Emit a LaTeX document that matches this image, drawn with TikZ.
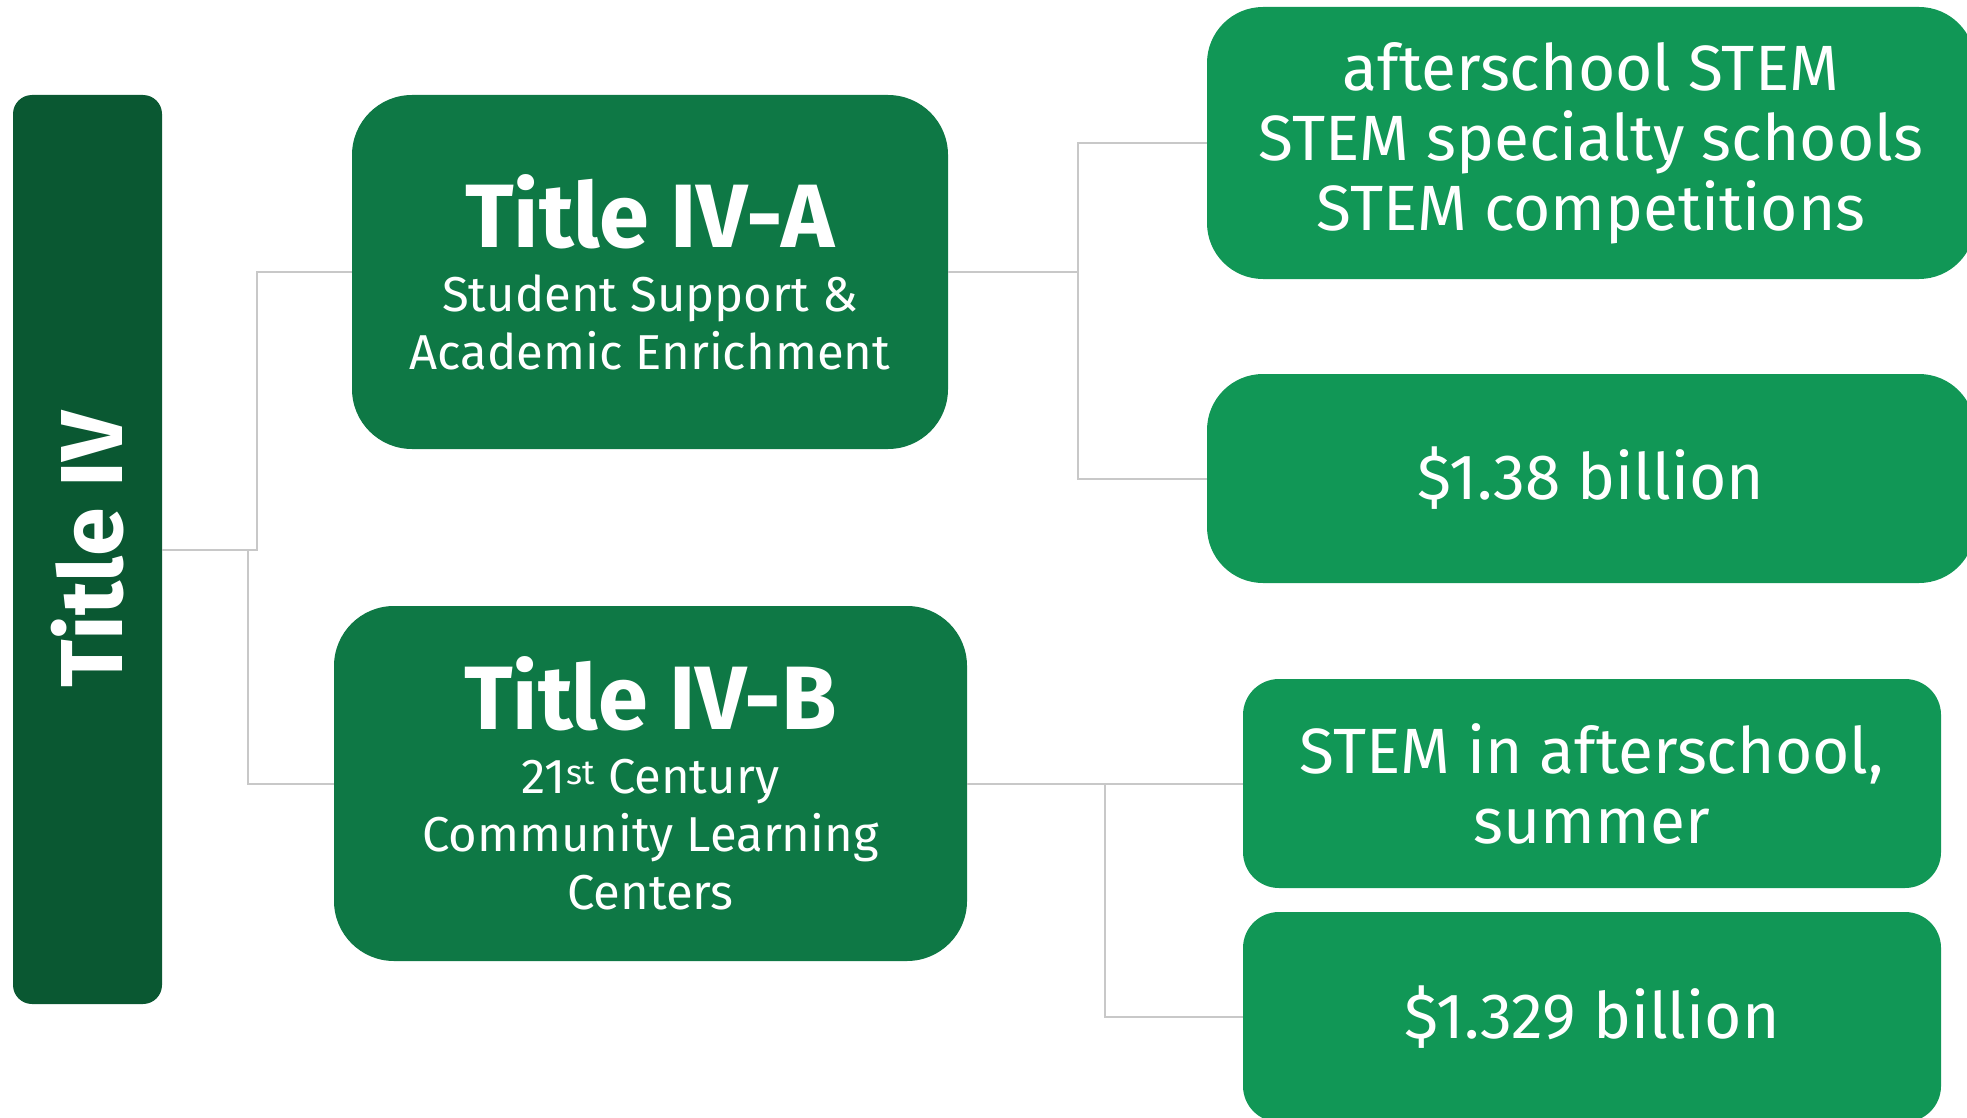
\documentclass[tikz,border=0pt]{standalone}
\usepackage{fontspec}
\setmainfont{Fira Sans}

\definecolor{darkgreen}{HTML}{0A5832}
\definecolor{midgreen}{HTML}{0E7845}
\definecolor{lightgreen}{HTML}{119756}
\definecolor{linegray}{HTML}{C8C8C8}

\newcommand{\headfont}{\fontsize{90}{94}\selectfont\bfseries}
\newcommand{\subfont}{\fontsize{49}{58}\selectfont}
\newcommand{\infofont}{\fontsize{64}{70}\selectfont}

\tikzset{
  conn/.style={draw=linegray, line width=2pt},
  titlebox/.style={fill=midgreen, text=white, inner sep=0pt, align=center, rounded corners=60pt, font=\subfont},
  infobox/.style={fill=lightgreen, text=white, inner sep=0pt, align=center, font=\infofont},
}

\begin{document}
\begin{tikzpicture}[x=1pt,y=-1pt]
  \useasboundingbox (0,0) rectangle (1967,1118);
  \clip (0,0) rectangle (1967,1118);

  % main bar
  \node[fill=darkgreen, text=white, rounded corners=19pt, inner sep=0pt, rotate=90,
        minimum width=909pt, minimum height=149pt, font=\fontsize{88}{92}\selectfont\bfseries]
        (t4) at (87.5,549.5) {Title IV};

  % title boxes
  \node[titlebox, minimum width=596pt, minimum height=354pt] (t4a) at (650,272)
        {{\headfont Title IV-A}\\[6pt] Student Support \&\\ Academic Enrichment};
  \node[titlebox, minimum width=633pt, minimum height=355pt] (t4b) at (650.5,783.5)
        {{\headfont Title IV-B}\\[6pt] 21\textsuperscript{st} Century\\ Community Learning\\ Centers};

  % info boxes
  \node[infobox, rounded corners=56pt, minimum width=768pt, minimum height=272pt] (stem) at (1591,143)
        {afterschool STEM\\ STEM specialty schools\\ STEM competitions};
  \node[infobox, rounded corners=56pt, minimum width=768pt, minimum height=209pt] (fundsa) at (1591,478.5)
        {\$1.38 billion};
  \node[infobox, rounded corners=36pt, minimum width=698pt, minimum height=209pt] (summer) at (1592,783.5)
        {STEM in afterschool,\\ summer};
  \node[infobox, rounded corners=36pt, minimum width=698pt, minimum height=210pt] (fundsb) at (1592,1017)
        {\$1.329 billion};

  % connectors
  \draw[conn] (t4.south) -- ++(95,0) |- (t4a.west);
  \draw[conn] (t4.south) -- ++(86,0) |- (t4b.west);
  \draw[conn] (t4a.east) -- ++(130,0) |- (stem.west);
  \draw[conn] (t4a.east) -- ++(130,0) |- (fundsa.west);
  \draw[conn] (t4b.east) -- ++(138,0) |- (summer.west);
  \draw[conn] (t4b.east) -- ++(138,0) |- (fundsb.west);
\end{tikzpicture}
\end{document}
